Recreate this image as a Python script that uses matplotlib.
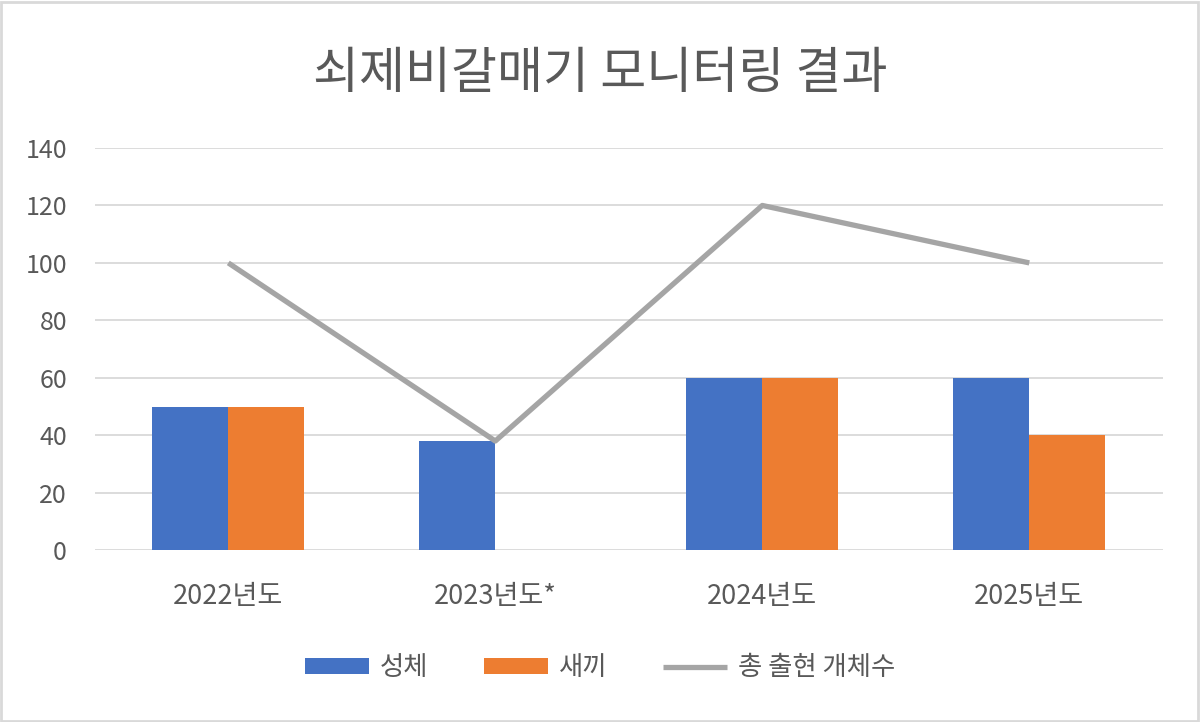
import matplotlib
matplotlib.use("Agg")
import matplotlib.pyplot as plt
import numpy as np
from matplotlib.patches import Rectangle

plt.rcParams['font.family'] = ['Noto Sans CJK KR', 'DejaVu Sans']

categories = ['2022년도', '2023년도*', '2024년도', '2025년도']
adults = [50, 38, 60, 60]
chicks = [50, 0, 60, 40]
total = [100, 38, 120, 100]
yticks = [0, 20, 40, 60, 80, 100, 120, 140]

title = '쇠제비갈매기 모니터링 결과'
labels = ['성체', '새끼', '총 출현 개체수']

blue = '#4472C4'
orange = '#ED7D31'
gray = '#A5A5A5'
text_c = '#595959'
grid_c = '#D9D9D9'

fig = plt.figure(figsize=(12, 7.22), dpi=100)
ax = fig.add_axes([0.079, 0.238, 0.890, 0.557])

x = np.arange(len(categories))
w = 0.285
b1 = ax.bar(x - w / 2, adults, width=w, color=blue, zorder=2, label=labels[0])
b2 = ax.bar(x + w / 2, chicks, width=w, color=orange, zorder=2, label=labels[1])
l1, = ax.plot(x, total, color=gray, linewidth=3.8, zorder=3, label=labels[2],
              solid_capstyle='butt')

ax.set_xlim(-0.5, 3.5)
ax.set_ylim(0, 140)
ax.set_yticks(yticks)
ax.set_yticklabels([str(v) for v in yticks])
ax.set_xticks(x)
ax.set_xticklabels(categories)
ax.yaxis.grid(True, color=grid_c, linewidth=1.3, zorder=0)
ax.set_axisbelow(True)
for s in ax.spines.values():
    s.set_visible(False)
ax.tick_params(axis='both', length=0, colors=text_c)
ax.tick_params(axis='y', pad=20, labelsize=18)
ax.tick_params(axis='x', pad=24, labelsize=19.5)

fig.text(0.5, 0.898, title, ha='center', va='center', fontsize=36, color=text_c)

leg = fig.legend(handles=[b1, b2, l1], labels=labels, loc='center',
                 bbox_to_anchor=(0.5, 0.075), ncol=3, frameon=False,
                 fontsize=19, handlelength=2.42, handleheight=0.55,
                 columnspacing=2.1, handletextpad=0.42)
for t in leg.get_texts():
    t.set_color(text_c)

fig.add_artist(Rectangle((0.001, 0.002), 0.997, 0.995, transform=fig.transFigure,
                         fill=False, edgecolor='#D9D9D9', linewidth=2))

fig.savefig('out.png', dpi=100, facecolor='white')
